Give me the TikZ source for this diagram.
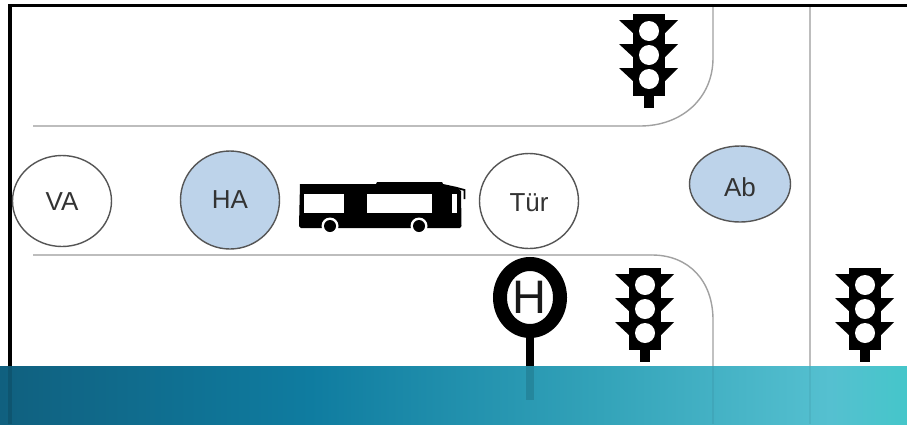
\documentclass[tikz,border=0pt]{standalone}
\usepackage{fontspec}
\usetikzlibrary{shapes.geometric}
\setmainfont{Liberation Sans}
\definecolor{road}{HTML}{BDBDBD}
\definecolor{blueball}{HTML}{BDD3EA}
\definecolor{ring}{HTML}{555555}
\definecolor{bandA}{HTML}{10607F}
\definecolor{bandB}{HTML}{0F7CA0}
\definecolor{bandC}{HTML}{33A3B9}
\definecolor{bandD}{HTML}{55C0D0}
\definecolor{bandE}{HTML}{45C6CA}
\tikzset{
 roadline/.style={draw=road,line width=2.2pt},
 thinroad/.style={draw=road!85!black,line width=1.4pt},
 ball/.style 2 args={ellipse,draw=ring,line width=1.4pt,minimum width=#1,minimum height=#2,inner sep=0pt,font=\fontsize{26}{30}\selectfont,text=black!80,text depth=0pt},
 shadow/.style={black,opacity=0.12},
}
\newcommand{\trafficlight}[2]{%
 \begin{scope}[shift={(#1,#2)}]
  \fill (-16,-41) rectangle (16,41);
  \fill (-5,41) rectangle (5,53);
  \foreach \yy in {-24,0,24}{
   \fill[white] (0,\yy) circle (10);
   \fill (-30,\yy-11) -- (-16,\yy-11) -- (-16,\yy+2) -- cycle;
   \fill (29,\yy-11) -- (16,\yy-11) -- (16,\yy+2) -- cycle;
  }
 \end{scope}}
\begin{document}
\begin{tikzpicture}[x=1pt,y=-1pt]
\useasboundingbox (0,0) rectangle (907,424);
\fill[white] (0,0) rectangle (907,424);
% frame
\draw[black,line width=3.4pt] (10,430) -- (10,5.7) -- (907,5.7);
% roads
\draw[roadline] (33,126) -- (640,126);
\draw[thinroad] (640,126) .. controls (682,126) and (713,98) .. (713,58) -- (713,7);
\draw[roadline] (33,255) -- (652,255);
\draw[thinroad] (652,255) .. controls (688,255) and (713,280) .. (713,320) -- (713,424);
\draw[roadline,line width=2.6pt] (810,7) -- (810,424);
% lights
\trafficlight{649}{55}
\trafficlight{645}{309}
\trafficlight{865}{309}
% stop sign
\fill (526,330) rectangle (534,400);
\draw[black,line width=14pt,fill=white] (530,297.5) ellipse (30 and 33.5);
\node[font=\fontsize{47}{52}\selectfont,text=black!90] (hsign) at (529,297) {H};
% bus
\fill (300,184) -- (376,184) -- (377,182) -- (442,182) -- (443,184) -- (457,187) -- (461,191) -- (461.5,226) -- (460,228) -- (301,228) -- (299,226) -- cycle;
\draw[line width=1.8pt] (457,188) -- (464.5,190) -- (464.5,199);
\fill[white] (304,194) rectangle (344,213);
\fill[white] (367,194) rectangle (432,213);
\fill[white] (452,194) rectangle (457,213);
\fill[white] (330,226) circle (8.5);
\fill[white] (419,226) circle (8.5);
\fill (330,226) circle (6);
\fill (419,226) circle (6);
% stations
\node[ball={99pt}{91pt},fill=white,text height=18.6pt] (va) at (62,201) {VA};
\node[ball={99pt}{98pt},fill=blueball,text height=16.6pt] (ha) at (230,200) {HA};
\node[ball={99pt}{95pt},fill=white,text height=20.6pt] (tuer) at (529,201) {Tür};
\node[ball={101pt}{76pt},fill=blueball,text height=24.6pt] (ab) at (740,184) {Ab};
% band
\fill[left color=bandA,right color=bandB] (0,366) rectangle (310,424);
\fill[left color=bandB,right color=bandC] (310,366) rectangle (600,424);
\fill[left color=bandC,right color=bandD] (600,366) rectangle (830,424);
\fill[left color=bandD,right color=bandE] (830,366) rectangle (907,424);
% what shows through the band
\fill[shadow] (8.3,366) rectangle (11.7,424);
\fill[shadow] (526,366) rectangle (534,400);
\fill[shadow,opacity=0.05] (712,366) rectangle (714,424);
\fill[shadow,opacity=0.05] (809,366) rectangle (811,424);
\end{tikzpicture}
\end{document}
